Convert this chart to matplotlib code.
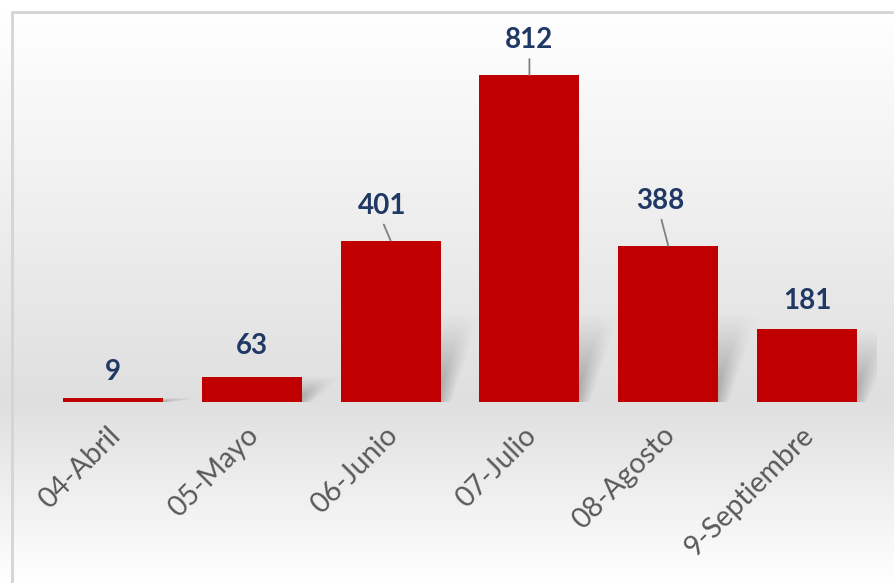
import numpy as np
import matplotlib.pyplot as plt
import matplotlib.transforms as mtransforms
from matplotlib.patches import Rectangle

meses = ["04-Abril", "05-Mayo", "06-Junio", "07-Julio", "08-Agosto", "9-Septiembre"]
casos = [9, 63, 401, 812, 388, 181]

# label offsets in pixels (x, y) above the bar top, and which ones have a leader line
lbl_dx = [0, 0, -8, 0, -8, 0]
lbl_dy = [26, 31, 35, 35, 45, 28]
leader = [False, False, True, True, True, False]

W, H = 895, 583
fig = plt.figure(figsize=(W / 100, H / 100), dpi=100)

# background gradient + border
bg = fig.add_axes([0, 0, 1, 1])
bg.axis("off")
rows = np.arange(H)
shade = np.interp(rows, [0, 12, 400, 583], [1.0, 1.0, 0.875, 1.0])
img = np.repeat(shade[:, None], 4, axis=1)
bg.imshow(np.dstack([img, img, img]), extent=[0, 1, 0, 1], aspect="auto",
          interpolation="bilinear")
bg.set_xlim(0, 1)
bg.set_ylim(0, 1)
bg.add_patch(Rectangle((12 / W, -0.05), 1.1, (H - 12) / H + 0.05, fill=False,
                       edgecolor="#d4d4d4", lw=2, transform=bg.transAxes, clip_on=False))

# main axes
left, right, base, top = 43.5, 876.5, 402, 12
ax = fig.add_axes([left / W, (H - base) / H, (right - left) / W, (base - top) / H])
ax.patch.set_alpha(0)
ymax = (base - top) / (327 / 812)
x = np.arange(len(casos))
bw = 0.72

# soft perspective shadows behind the bars
gx = np.linspace(-0.5, len(casos) - 0.5, 900)
gy = np.linspace(0, ymax, 420)
GX, GY = np.meshgrid(gx, gy)
alpha = np.zeros_like(GX)
for xi, v in zip(x, casos):
    ht = min(v, 220)
    t = np.clip(GY / ht, 0, 1)
    shift = 0.22 * t
    l = xi - bw / 2 + shift
    r = xi + bw / 2 + 0.04 + shift
    soft = 0.12
    hmask = np.clip((GX - l) / soft, 0, 1) * np.clip((r - GX) / soft + 0.3, 0, 1)
    vmask = np.where(GY < ht, (1 - t) ** 1.1, 0)
    alpha = np.maximum(alpha, 0.5 * hmask * vmask)
shadow = np.zeros(GX.shape + (4,))
shadow[..., :3] = 0.35
shadow[..., 3] = alpha
ax.imshow(shadow, extent=[gx[0], gx[-1], 0, ymax], origin="lower", aspect="auto",
          interpolation="bilinear", zorder=1)
ax.set_xlim(-0.5, len(casos) - 0.5)
ax.set_ylim(0, ymax)

ax.bar(x, casos, width=bw, color="#C00000", zorder=3)

for xi, v, dx, dy, ld in zip(x, casos, lbl_dx, lbl_dy, leader):
    ax.annotate(str(v), (xi, v), xytext=(dx, dy), textcoords="offset pixels",
                ha="center", va="center", fontsize=20, fontweight="bold",
                family="Lato", color="#1F3864", zorder=5)
    if ld:
        ax.annotate("", (xi, v), xytext=(dx * 0.85, dy - 19), textcoords="offset pixels",
                    arrowprops=dict(arrowstyle="-", color="#808080", lw=1.3,
                                    shrinkA=0, shrinkB=0), zorder=4)

for s in ax.spines.values():
    s.set_visible(False)
ax.set_yticks([])
ax.set_xticks(x)
ax.set_xticklabels(meses, rotation=45, ha="right", va="center", rotation_mode="anchor",
                   fontsize=20.5, family="Lato", color="#595959")
ax.tick_params(axis="x", length=0, pad=21)
off = mtransforms.ScaledTranslation(3 / 100, 0, fig.dpi_scale_trans)
for lab in ax.get_xticklabels():
    lab.set_transform(lab.get_transform() + off)

fig.savefig("out.png", dpi=100)
